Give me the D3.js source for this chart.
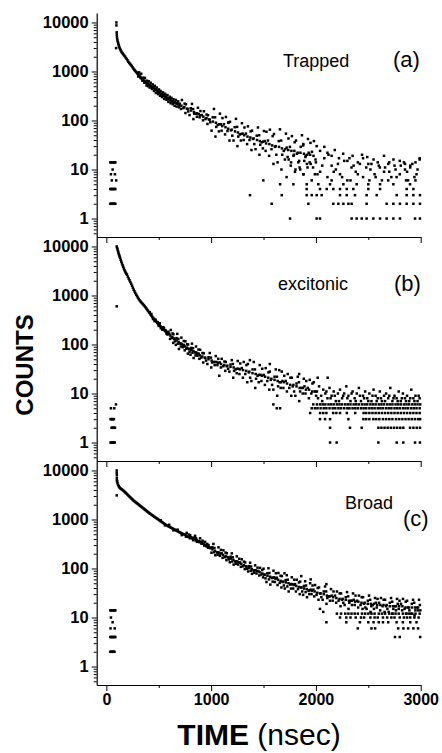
<!DOCTYPE html>
<html>
<head>
<meta charset="utf-8">
<script src="https://cdn.jsdelivr.net/npm/d3@7"></script>
<style>
  body { margin: 0; background: #fff; }
  svg { display: block; font-family: "Liberation Sans", Arial, sans-serif; }
</style>
</head>
<body>
<svg id="chart" width="442" height="753"></svg>
<script>
// ---- data (time in nsec, counts) ----
const yMajor = [1, 10, 100, 1000, 10000];
const yMinor = [0.5, 0.6, 0.7, 0.8, 0.9, 2, 3, 4, 5, 6, 7, 8, 9, 20, 30, 40, 50, 60, 70, 80, 90,
  200, 300, 400, 500, 600, 700, 800, 900, 2000, 3000, 4000, 5000, 6000, 7000, 8000, 9000];
const xMajor = [0, 1000, 2000, 3000];
const xMinor = [500, 1500, 2500];

// (a) Trapped
const trappedPoints = [
  // pre-pulse background
  [38,14],[46,14],[54,14],[62,14],[70,14],[78,14],[86,14],[60,10],[44,8],[82,8],[52,6],[94,6],
  [38,4],[46,4],[54,4],[62,4],[70,4],[78,4],[86,4],[38,2],[46,2],[54,2],[62,2],[70,2],[78,2],[86,2],
  // rise + early decay
  [96,10000],[96,8700],[99,6300],[100,5700],[101,5200],[103,4700],[106,4300],[93,3000],
  [110,4000],[114,3700],[118,3450],[122,3250],[127,3000],[132,2850],[138,2680],[144,2540],[150,2420],
  [156,2330],[163,2230],[170,2120],[178,2020],[186,1900],[194,1800],[202,1690],[210,1580],[218,1500],
  [226,1430],[234,1360],[242,1300],[250,1220],[258,1150],[266,1090],[274,1040],[282,990],[290,950],
  [298,900],[306,860],[314,820],[322,785],[330,750],[338,715],[346,690],[354,665],[362,640],[370,620],
  [378,600],[386,580],[394,565],[402,548],[410,532],[418,518],[426,505],[434,492],[442,478],[450,465],
  [458,452],[466,440],[474,425],[482,410],[490,395],[498,382],[506,372],[514,362],[522,352],[530,342],
  [538,334],[546,325],[554,316],[562,308],[570,300],[578,292],[586,284],[594,276],[602,269],[610,262],
  [618,256],[626,250],[634,245],[642,240],[650,235],[658,231],[666,226],[674,222],[682,218],[690,214],[698,210],
  [304,790],[312,960],[327,735],[333,900],[344,650],[351,745],[363,590],[368,740],[383,520],[387,650],
  [398,500],[405,630],[414,470],[423,590],[436,440],[443,545],[455,400],[462,510],[473,365],[481,470],
  [494,345],[502,430],[513,320],[518,400],[532,300],[541,375],[553,275],[561,350],[574,265],[583,330],
  [592,240],[605,305],[613,225],[621,290],[634,215],[641,272],[652,200],[663,262],[671,192],[686,245],[694,186],
  // spreading decay
  [702,220],[713,172],[721,262],[736,179],[747,221],[755,142],[760,214],[769,174],[782,153],
  [794,129],[805,178],[817,218],[828,171],[839,138],[831,107],[853,138],[874,182],[864,119],
  [890,116],[881,135],[898,156],[912,129],[923,101],[931,154],[946,107],[957,132],[965,85],
  [970,128],[979,105],[992,92],[1004,62],[1015,116],[1027,172],[1038,116],[1049,74],[1041,47],
  [1063,81],[1084,138],[1074,60],[1100,62],[1091,84],[1108,112],[1122,84],[1133,52],[1141,118],
  [1156,61],[1167,92],[1175,39],[1180,94],[1189,63],[1202,49],[1214,39],[1225,73],[1237,108],
  [1248,74],[1259,47],[1251,30],[1273,52],[1294,88],[1284,39],[1310,40],[1301,54],[1318,72],
  [1332,54],[1343,33],[1351,76],[1366,40],[1377,60],[1385,25],[1390,62],[1399,42],[1412,33],
  [1424,26],[1435,49],[1447,72],[1458,50],[1469,32],[1461,20],[1483,36],[1504,61],[1494,27],
  [1520,24],[1511,38],[1528,59],[1542,39],[1553,19],[1561,65],[1576,26],[1587,48],[1595,13],
  [1600,53],[1609,29],[1622,20],[1634,14],[1645,38],[1657,66],[1668,39],[1679,20],[1671,10],
  [1693,24],[1714,54],[1704,16],[1730,18],[1721,28],[1738,43],[1752,29],[1763,14],[1771,48],
  [1786,19],[1797,36],[1805,10],[1810,39],[1819,21],[1832,14],[1844,11],[1855,29],[1867,50],
  [1878,31],[1889,15],[1881,8],[1903,19],[1924,42],[1914,13],[1940,14],[1931,22],[1948,35],
  [1962,23],[1973,11],[1981,38],[1996,16],[2007,30],[2015,8],
  [716,200],[744,188],[776,172],[808,160],[836,148],[866,140],[895,128],[926,119],[956,112],[986,104],
  [1017,95],[1046,90],[1078,84],[1106,77],[1137,73],[1163,68],[1196,65],[1228,60],[1256,57],[1286,53],
  [1316,50],[1347,47],[1374,45],[1405,43],[1438,40],[1465,38],[1497,37],[1525,34],[1556,33],[1583,31],
  [1616,30],[1648,29],[1676,27],[1708,26],[1736,25],[1766,24],[1794,24],[1826,22],[1852,22],[1886,21],
  [1917,20],[1945,20],[1977,19],[1164,90],[1498,6],
  [1880,33],[2080,29],[2040,24],[2110,22],[2150,19],[2180,25],[2220,17],[2260,21],[2300,15],
  [2350,19],[2400,14],[2450,17],[2500,13],[2550,16],[2600,12],[2650,19],[2700,14],[2750,12],
  [2800,15],[2850,13],[2900,12],[2950,14],[2990,17],
  // noisy tail
  [1720,7],[1760,12],[1800,9],[1840,15],[1880,8],[1920,11],[1960,6],[2000,14],[2040,9],[2080,17],
  [2110,7],[2150,12],[2190,10],[2230,8],[2270,15],[2300,6],[2340,11],[2380,9],[2420,13],[2450,7],
  [2490,18],[2520,10],[2560,8],[2590,14],[2630,6],[2660,11],[2700,9],[2740,16],[2770,7],[2810,12],
  [2850,10],[2880,6],[2920,13],[2960,8],[2990,16],
  [1740,16],[1790,20],[1850,10],[1900,18],[1950,13],[1990,8],[2060,12],[2120,20],[2170,9],[2210,13],
  [2250,7],[2320,17],[2360,12],[2400,8],[2440,20],[2480,11],[2530,13],[2570,7],[2610,11],[2650,9],
  [2690,13],[2720,7],[2760,10],[2800,8],[2840,14],[2870,9],[2900,11],[2940,7],[2970,10],
  [2150,6],[2330,6],[2510,6],[2690,6],[2860,6],[2950,6]
];
const trappedRows = [
  [1, [1753,2007,2039,2341,2389,2437,2484,2548,2612,2675,2739,2802,2946,2993]],
  [2, [1578,1928,2166,2214,2262,2310,2341,2484,2675,2739,2802,2866,2930,2993]],
  [3, [1371,1674,1912,1960,2007,2055,2230,2294,2373,2484,2580,2771,2866,2930,2993]],
  [4, [1912,2039,2103,2166,2230,2294,2357,2500,2612,2866,2930]],
  [5, [1658,1785,1912,2023,2135,2262,2389,2500,2612,2739,2898]]
];

// (b) excitonic
const excitonicPoints = [
  [44,5],[76,5],[92,6],[40,3],[48,3],[56,3],[64,3],[72,3],[50,2],[58,2],[66,2],[74,2],[82,2],
  [40,1],[48,1],[56,1],[64,1],[72,1],[80,1],
  [99,600],
  [99,10000],[103,9300],[107,8700],[111,8100],[115,7500],[119,7000],[123,6600],[127,6200],[131,5850],
  [137,5350],[143,4900],[149,4500],[155,4150],[161,3850],[167,3550],[173,3300],[179,3100],[185,2900],
  [191,2780],[197,2650],[205,2420],[213,2220],[221,2040],[229,1880],[237,1730],[245,1580],[253,1440],
  [261,1310],[269,1210],[277,1120],[285,1040],[293,970],[301,905],[309,850],[317,800],[325,760],
  [333,725],[341,695],[349,665],[357,635],[365,605],[373,575],[381,545],[389,515],[397,490],[405,462],
  [413,438],[421,410],[429,390],[437,370],[445,352],[453,335],[461,320],[469,305],[477,292],[485,278],
  [493,265],[501,254],[509,244],[517,234],[525,225],[533,216],[541,208],[549,200],[557,193],[565,186],
  [573,179],[581,172],
  [415,455],[430,420],[445,330],[460,300],[470,320],[490,285],[500,240],[510,270],[520,215],[535,200],
  [545,225],[550,215],[565,195],[575,165],[585,160],[592,182],
  // spreading decay
  [601,166],[608,130],[615,198],[624,136],[632,168],[638,108],[640,162],[646,132],[654,116],
  [663,98],[670,135],[677,165],[687,130],[682,104],[693,81],[705,105],[716,138],[711,91],
  [729,88],[721,102],[739,118],[741,98],[748,76],[755,116],[764,82],[772,101],[778,65],
  [780,100],[786,81],[794,71],[803,62],[810,85],[817,104],[827,84],[822,68],[833,53],
  [845,69],[856,91],[851,60],[869,59],[861,68],[879,79],[881,65],[888,51],[895,78],
  [906,54],[917,67],[925,43],[930,66],[939,54],[952,47],[964,40],[975,55],[987,67],
  [998,54],[1009,43],[1001,34],[1023,44],[1044,58],[1034,38],[1060,38],[1051,44],[1068,51],
  [1082,43],[1093,34],[1101,51],[1116,36],[1127,45],[1135,29],[1140,44],[1149,36],[1162,32],
  [1174,28],[1185,39],[1197,48],[1208,40],[1219,29],[1211,21],[1233,31],[1254,46],[1244,26],
  [1270,25],[1261,32],[1278,41],[1292,33],[1303,21],[1311,44],[1326,25],[1337,38],[1345,17],
  [1350,40],[1359,27],[1372,21],[1384,18],[1395,31],[1407,44],[1418,31],[1429,20],[1421,13],
  [1443,23],[1464,38],[1454,17],[1480,18],[1471,24],[1488,32],[1502,24],[1513,15],[1521,33],
  [1536,18],[1547,27],[1555,12],[1560,28],[1569,19],[1582,15],[1594,12],[1605,22],[1617,31],
  [1628,22],[1639,14],[1631,9],[1653,17],[1674,28],[1664,13],[1690,13],[1681,18],[1698,23],
  [1712,18],[1723,11],[1731,25],[1746,13],[1757,21],[1765,9],[1770,21],[1779,14],[1792,11],
  [1804,9],[1815,16],[1827,22],[1838,17],[1849,11],[1841,7],[1863,13],[1884,20],[1874,10],
  [1900,10],[1891,14],[1908,18],[1922,13],[1933,8],[1941,19],[1956,10],[1967,16],[1975,6],
  [1980,17],[1989,11],[2002,9],
  [611,152],[630,142],[650,130],[671,121],[691,112],[711,104],[731,96],[751,91],[771,86],[791,81],
  [811,77],[831,73],[851,69],[871,65],[891,60],[915,57],[945,53],[975,50],[1005,47],[1035,44],
  [1065,42],[1095,40],[1125,38],[1155,37],[1185,35],[1215,34],[1245,32],[1275,31],[1305,30],[1335,29],
  [1365,28],[1395,26],[1425,25],[1455,24],[1485,23],[1515,22],[1545,21],[1575,20],[1605,19],[1635,18],
  [1665,17],[1695,17],[1725,16],[1755,15],[1785,15],[1815,14],[1845,13],[1875,13],[1905,12],[1935,12],
  [1965,11],[1995,11],
  [1078,23],[1626,5],[1370,48],[1560,40],[2017,21],[2112,21],[1840,25],[1650,30],
  [1594,6],[1658,5],[1960,5],
  // tail
  [2010,11],[2030,14],[2050,9],[2070,12],[2090,10],[2110,8],[2130,13],[2150,9],[2170,11],[2190,7],
  [2210,10],[2230,12],[2250,8],[2270,10],[2290,14],[2310,9],[2330,7],[2350,11],[2370,8],[2390,10],
  [2410,13],[2430,7],[2450,9],[2470,11],[2490,8],[2510,10],[2530,7],[2550,12],[2570,9],[2590,8],
  [2610,11],[2630,7],[2650,9],[2670,10],[2690,8],[2710,13],[2730,7],[2750,9],[2770,8],[2790,11],
  [2810,7],[2830,10],[2850,8],[2870,9],[2890,7],[2910,12],[2930,8],[2950,9],[2970,7],[2990,8],
  [2020,8],[2060,7],[2100,11],[2140,8],[2180,9],[2220,7],[2260,9],[2300,8],[2340,10],[2380,7],
  [2420,9],[2460,8],[2500,7],[2540,9],[2580,7],[2620,8],[2660,7],[2700,9],[2740,8],[2780,7],
  [2820,8],[2860,7],[2900,8],[2940,7],[2980,9]
];
const excitonicRows = [
  [1, [2135,2198,2596,2771,2834,2946,2993]],
  [2, [2135,2325,2437,2596,2625,2655,2685,2715,2745,2775,2805,2834,2898,2930,2962,2993]],
  [3, [2039,2087,2135,2310,2453,2480,2510,2548,2575,2605,2640,2670,2700,2730,2765,2795,2825,2855,2885,2915,2945,2975,2995]],
  [4, [1945,2040,2070,2100,2165,2195,2230,2295,2375,2455,2480,2510,2540,2570,2600,2630,2660,2690,2720,2750,2780,2810,2840,2870,2900,2930,2960,2990]],
  [5, [1990,2015,2045,2075,2100,2130,2160,2185,2215,2240,2270,2300,2320,2350,2375,2400,2430,2455,2480,2510,2535,2560,2590,2615,2640,2670,2695,2720,2750,2775,2800,2830,2855,2880,2910,2935,2960,2990]],
  [6, [2010,2040,2065,2090,2120,2145,2170,2200,2225,2250,2280,2305,2330,2360,2385,2410,2440,2465,2490,2520,2545,2570,2600,2625,2650,2680,2705,2730,2760,2785,2810,2840,2865,2890,2920,2945,2970,2995]]
];

// (c) Broad
const broadPoints = [
  [38,14],[46,14],[54,14],[62,14],[70,14],[78,14],[86,14],[44,10],[60,8],[40,6],[80,6],
  [38,4],[46,4],[54,4],[62,4],[70,4],[78,4],[86,4],[38,2],[46,2],[54,2],[62,2],[70,2],[78,2],
  [99,10000],[99,9000],[100,8000],[100,7000],[101,6300],[99,3100],
  [103,6000],[107,5500],[112,5100],[118,4800],[124,4550],[130,4400],[138,4250],[146,4120],[154,4000],
  [162,3900],[170,3750],[178,3610],[186,3470],[194,3340],[202,3215],[210,3090],[218,2975],[226,2860],
  [234,2750],[242,2650],[250,2550],[258,2450],[266,2375],[274,2300],[282,2230],[290,2160],[298,2095],
  [306,2030],[314,1965],[322,1905],[330,1845],[338,1790],[346,1735],[354,1680],[362,1630],[370,1580],
  [378,1530],[386,1480],[394,1435],[402,1390],[410,1350],[418,1310],[428,1265],[438,1222],[448,1180],
  [458,1140],[468,1100],[478,1063],[488,1027],[498,992],[508,958],[518,925],[528,893],[538,862],
  [548,833],[558,805],[568,778],[578,755],[588,735],[598,716],[608,697],[618,679],[628,661],[638,644],
  [648,627],[658,611],[668,595],[678,580],[688,565],[698,550],[708,536],[718,522],[728,508],[738,496],
  [520,960],[560,760],[600,780],[640,600],[680,620],[720,480],
  // spreading decay
  [751,495],[759,446],[767,534],[779,442],[788,492],[796,414],[800,476],[807,433],[819,411],
  [828,378],[836,427],[847,465],[856,413],[852,373],[865,350],[880,365],[895,413],[887,346],
  [908,321],[901,345],[918,369],[926,324],[934,293],[942,350],[954,284],[963,317],[971,266],
  [975,300],[982,272],[994,259],[1003,210],[1011,271],[1022,317],[1031,262],[1027,214],[1040,186],
  [1055,212],[1070,270],[1062,190],[1083,182],[1076,211],[1093,240],[1101,204],[1109,165],[1117,235],
  [1129,170],[1138,211],[1146,148],[1150,205],[1157,171],[1169,153],[1178,134],[1186,174],[1197,203],
  [1206,169],[1202,139],[1215,120],[1230,139],[1245,177],[1237,125],[1258,120],[1251,139],[1268,158],
  [1276,133],[1284,108],[1292,154],[1304,111],[1313,138],[1321,97],[1325,133],[1332,111],[1344,99],
  [1353,87],[1361,112],[1372,131],[1381,110],[1377,90],[1390,78],[1405,91],[1420,116],[1412,82],
  [1433,79],[1426,92],[1443,104],[1451,89],[1459,72],[1467,103],[1479,75],[1488,93],[1496,66],
  [1500,99],[1507,75],[1519,63],[1528,53],[1536,80],[1547,101],[1556,81],[1552,60],[1565,47],
  [1580,64],[1595,90],[1587,54],[1608,53],[1601,66],[1618,80],[1626,65],[1634,46],[1642,81],
  [1654,51],[1663,71],[1671,41],[1675,70],[1682,53],[1694,45],[1703,39],[1711,58],[1722,73],
  [1731,59],[1727,43],[1740,34],[1755,47],[1770,66],[1762,39],[1783,39],[1776,48],[1793,59],
  [1801,48],[1809,34],[1817,59],[1829,38],[1838,52],[1846,30],[1850,54],[1857,41],[1869,34],
  [1878,29],[1886,44],[1897,55],[1906,45],[1902,33],[1915,26],[1930,35],[1945,50],[1937,30],
  [1958,30],[1951,37],[1968,45],[1976,37],[1984,27],[1992,46],[2006,29],[2017,40],[2025,23],
  [2030,41],[2039,31],[2052,26],[2064,23],[2075,34],[2087,43],[2098,34],[2109,25],[2101,19],
  [2123,27],[2144,38],[2134,22],[2160,22],[2151,28],[2168,34],[2182,28],[2193,20],[2201,34],
  [2216,22],[2227,31],[2235,17],[2240,31],[2249,23],[2262,20],[2274,18],[2285,26],[2297,33],
  [2308,27],[2319,20],[2311,15],[2333,22],[2354,31],[2344,18],[2370,18],[2361,23],[2378,28],
  [2392,22],[2403,16],[2411,28],[2426,18],[2437,26],[2445,15],[2450,26],[2459,19],[2472,16],
  [2484,15],[2495,22],[2507,28],[2518,23],[2529,17],[2521,13],[2543,18],[2564,25],[2554,15],
  [2580,16],[2571,20],[2588,24],[2602,20],[2613,14],[2621,25],[2636,17],[2647,23],[2655,13],
  [2660,23],[2669,17],[2682,15],[2694,13],[2705,20],[2717,25],[2728,21],[2739,15],[2731,12],
  [2753,17],[2774,24],[2764,14],[2790,15],[2781,19],[2798,22],[2812,19],[2823,14],[2831,24],
  [2846,15],[2857,21],[2865,12],[2870,22],[2879,16],[2892,14],[2904,12],[2915,19],[2927,23],
  [2938,20],[2949,14],[2941,11],[2963,16],[2984,23],[2974,14],[2997,14],[2992,18],
  [763,472],[788,450],[813,426],[838,404],[862,383],[888,357],[913,330],[938,307],[963,285],[988,265],
  [1013,246],[1038,229],[1063,214],[1088,201],[1113,190],[1138,179],[1163,169],[1188,159],[1213,150],
  [1238,140],[1263,132],[1288,124],[1313,117],[1338,109],[1363,103],[1388,97],[1413,92],[1438,88],
  [1463,84],[1488,79],[1513,75],[1538,71],[1563,68],[1588,65],[1613,62],[1638,59],[1663,56],[1688,54],
  [1713,52],[1738,50],[1763,48],[1788,46],[1813,44],[1838,42],[1863,41],[1888,39],[1913,38],[1938,36],
  [1963,35],[1988,34],[2013,32],[2045,31],[2075,30],[2105,28],[2135,27],[2165,26],[2195,25],[2225,24],
  [2255,24],[2285,23],[2315,22],[2345,22],[2375,21],[2405,21],[2435,20],[2465,20],[2495,19],[2525,19],
  [2555,19],[2585,18],[2615,18],[2645,18],[2675,18],[2705,17],[2735,17],[2765,17],[2795,17],[2825,17],
  [2855,16],[2885,16],[2915,16],[2945,16],[2975,16],
  [2039,15],[2070,13],[1860,70],[1700,80],[2100,48],[1950,60]
];
const broadRows = [
  [4, [2755,2800,2995]],
  [6, [2400,2530,2565,2785,2835,2880,2930,2975]],
  [8, [2100,2290,2420,2500,2550,2600,2640,2690,2770,2830,2900,2960]],
  [10, [2230,2290,2330,2380,2430,2460,2520,2560,2590,2640,2680,2720,2750,2800,2840,2870,2900,2940,2980]],
  [12, [2200,2240,2280,2310,2340,2370,2400,2440,2470,2500,2530,2560,2600,2630,2660,2700,2730,2760,2790,2830,2860,2890,2920,2950,2990]]
];

const panelData = [
  { text: "Trapped", tag: "(a)", points: trappedPoints, rows: trappedRows },
  { text: "excitonic", tag: "(b)", points: excitonicPoints, rows: excitonicRows },
  { text: "Broad", tag: "(c)", points: broadPoints, rows: broadRows }
];

// ---- layout ----
const svg = d3.select("#chart");
const left = 96.7, right = 420.7;
const panelTop = 13, panelHeight = 224;
const dot = 2.5;

const xScale = d3.scaleLinear().domain([-92, 3000]).range([left, right]);

// label placement per panel: [textX, textY, tagX, tagY]
const labelPos = [
  [283, 66.5, 393, 67],
  [278, 290, 394, 291],
  [345, 509, 403, 526]
];

panelData.forEach((p, i) => {
  const top = panelTop + i * panelHeight;
  const bottom = top + panelHeight;
  const yScale = d3.scaleLog().domain([0.42, 15600]).range([bottom, top]);
  const g = svg.append("g");

  const all = p.points.concat(p.rows.flatMap(([c, ts]) => ts.map((t) => [t, c])));

  g.append("g")
    .selectAll("rect")
    .data(all)
    .join("rect")
    .attr("x", (d) => xScale(d[0]) - dot / 2)
    .attr("y", (d) => yScale(d[1]) - dot / 2)
    .attr("width", dot)
    .attr("height", dot)
    .attr("fill", "#000");

  // left axis: minor then major
  g.append("g")
    .attr("transform", `translate(${left},0)`)
    .call(d3.axisLeft(yScale).tickValues(yMinor).tickSize(3).tickSizeOuter(0).tickFormat(""))
    .call((a) => a.select(".domain").remove());

  g.append("g")
    .attr("class", "yaxis")
    .attr("transform", `translate(${left},0)`)
    .call(d3.axisLeft(yScale).tickValues(yMajor).tickSize(5).tickSizeOuter(0).tickFormat((d) => String(d)));

  // bottom axis
  g.append("g")
    .attr("transform", `translate(0,${bottom})`)
    .call(d3.axisBottom(xScale).tickValues(xMinor).tickSize(3).tickSizeOuter(0).tickFormat(""))
    .call((a) => a.select(".domain").remove());

  g.append("g")
    .attr("class", "xaxis")
    .attr("transform", `translate(0,${bottom})`)
    .call(d3.axisBottom(xScale).tickValues(xMajor).tickSize(6).tickSizeOuter(0)
      .tickFormat(i === 2 ? (d) => String(d) : ""));

  const [tx, ty, gx, gy] = labelPos[i];
  g.append("text").attr("x", tx).attr("y", ty).attr("font-size", 18).text(p.text);
  g.append("text").attr("x", gx).attr("y", gy).attr("font-size", 22).text(p.tag);
});

svg.selectAll(".domain").attr("stroke", "#000").attr("stroke-width", 1.2);
svg.selectAll(".tick line").attr("stroke", "#000").attr("stroke-width", 1);
svg.selectAll(".yaxis text")
  .attr("font-family", "'Liberation Sans', Arial, sans-serif")
  .attr("font-size", 16.5).attr("font-weight", "bold").attr("fill", "#000");
svg.selectAll(".xaxis text")
  .attr("font-family", "'Liberation Sans', Arial, sans-serif")
  .attr("font-size", 16).attr("font-weight", "bold").attr("fill", "#000");

// axis titles
svg.append("text")
  .attr("transform", "translate(33,365) rotate(-90)")
  .attr("text-anchor", "middle")
  .attr("font-size", 24)
  .attr("font-weight", "bold")
  .text("COUNTS");

const xTitle = svg.append("text")
  .attr("x", 259)
  .attr("y", 745)
  .attr("text-anchor", "middle")
  .attr("font-size", 30);
xTitle.append("tspan").attr("font-weight", "bold").text("TIME");
xTitle.append("tspan").text(" (nsec)");
</script>
</body>
</html>
